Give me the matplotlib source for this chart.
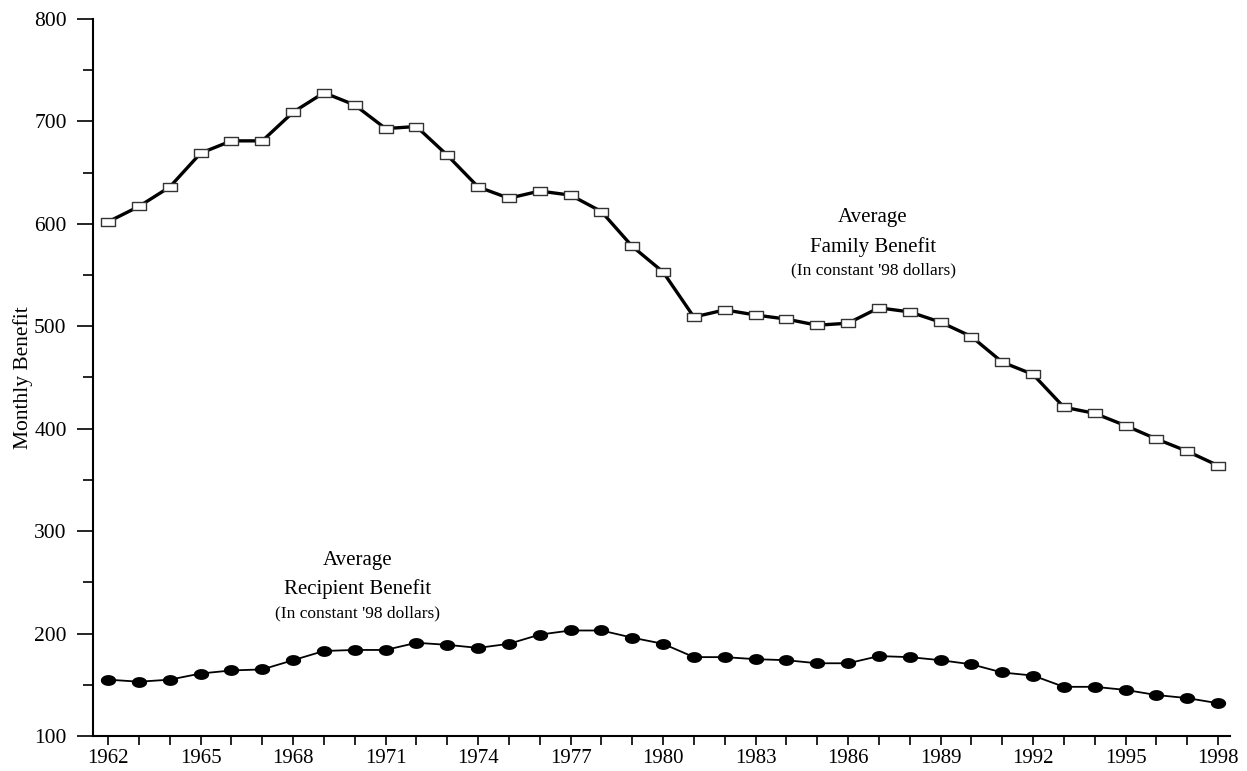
import matplotlib
matplotlib.use("Agg")
import matplotlib.pyplot as plt
import numpy as np
from matplotlib.path import Path
from matplotlib.ticker import MultipleLocator

years = list(range(1962, 1999))

# average family benefit, constant '98 dollars
family = [602, 617, 636, 669, 681, 681, 709, 728, 716, 693,
          695, 667, 636, 625, 632, 628, 612, 578, 553, 509,
          516, 511, 507, 501, 503, 518, 514, 504, 490, 465,
          453, 421, 415, 403, 390, 378, 364]

# average recipient benefit, constant '98 dollars
recipient = [155, 153, 155, 161, 164, 165, 174, 183, 184, 184,
             191, 189, 186, 190, 199, 203, 203, 196, 190, 177,
             177, 175, 174, 171, 171, 178, 177, 174, 170, 162,
             159, 148, 148, 145, 140, 137, 132]

plt.rcParams['font.family'] = ['Liberation Serif', 'DejaVu Serif']

# flat rectangle and ellipse markers like the original
rect = Path([(-1, -0.62), (1, -0.62), (1, 0.62), (-1, 0.62), (-1, -0.62)],
            [Path.MOVETO, Path.LINETO, Path.LINETO, Path.LINETO, Path.CLOSEPOLY])
t = np.linspace(0, 2 * np.pi, 40)
oval = Path(np.column_stack([np.cos(t), 0.68 * np.sin(t)]), closed=True)

fig = plt.figure(figsize=(12.47, 7.71), dpi=100)
ax = fig.add_axes([0.0746, 0.0454, 0.9118, 0.93])

ax.plot(years, family, color='black', lw=2.4, marker=rect, markersize=10,
        markerfacecolor='white', markeredgecolor='#333333', markeredgewidth=1.0,
        zorder=3)
ax.plot(years, recipient, color='black', lw=1.3, marker=oval, markersize=10,
        markerfacecolor='black', markeredgecolor='black', zorder=3)

ax.set_xlim(1961.51, 1998.39)
ax.set_ylim(100, 800)

ax.xaxis.set_major_locator(MultipleLocator(3))
ax.xaxis.set_minor_locator(MultipleLocator(1))
ax.yaxis.set_major_locator(MultipleLocator(100))
ax.yaxis.set_minor_locator(MultipleLocator(50))

ax.tick_params(axis='x', which='both', direction='out', length=6.5, width=1.2,
               labelsize=15, pad=3)
ax.tick_params(axis='y', which='major', direction='out', length=11.5, width=1.2,
               labelsize=15.5, pad=7.5)
ax.tick_params(axis='y', which='minor', direction='out', length=7, width=1.2)

for s in ['top', 'right']:
    ax.spines[s].set_visible(False)
for s in ['left', 'bottom']:
    ax.spines[s].set_linewidth(1.5)

ax.set_ylabel('Monthly Benefit', fontsize=15.5, labelpad=1)

# series labels
ax.text(1986.81, 606, 'Average', ha='center', va='center', fontsize=15)
ax.text(1986.81, 577, 'Family Benefit', ha='center', va='center', fontsize=15)
ax.text(1986.81, 555, "(In constant '98 dollars)", ha='center', va='center', fontsize=12.5)

ax.text(1970.08, 271, 'Average', ha='center', va='center', fontsize=15)
ax.text(1970.08, 243, 'Recipient Benefit', ha='center', va='center', fontsize=15)
ax.text(1970.08, 220.1, "(In constant '98 dollars)", ha='center', va='center', fontsize=12.5)

fig.savefig('out.png', dpi=100)
